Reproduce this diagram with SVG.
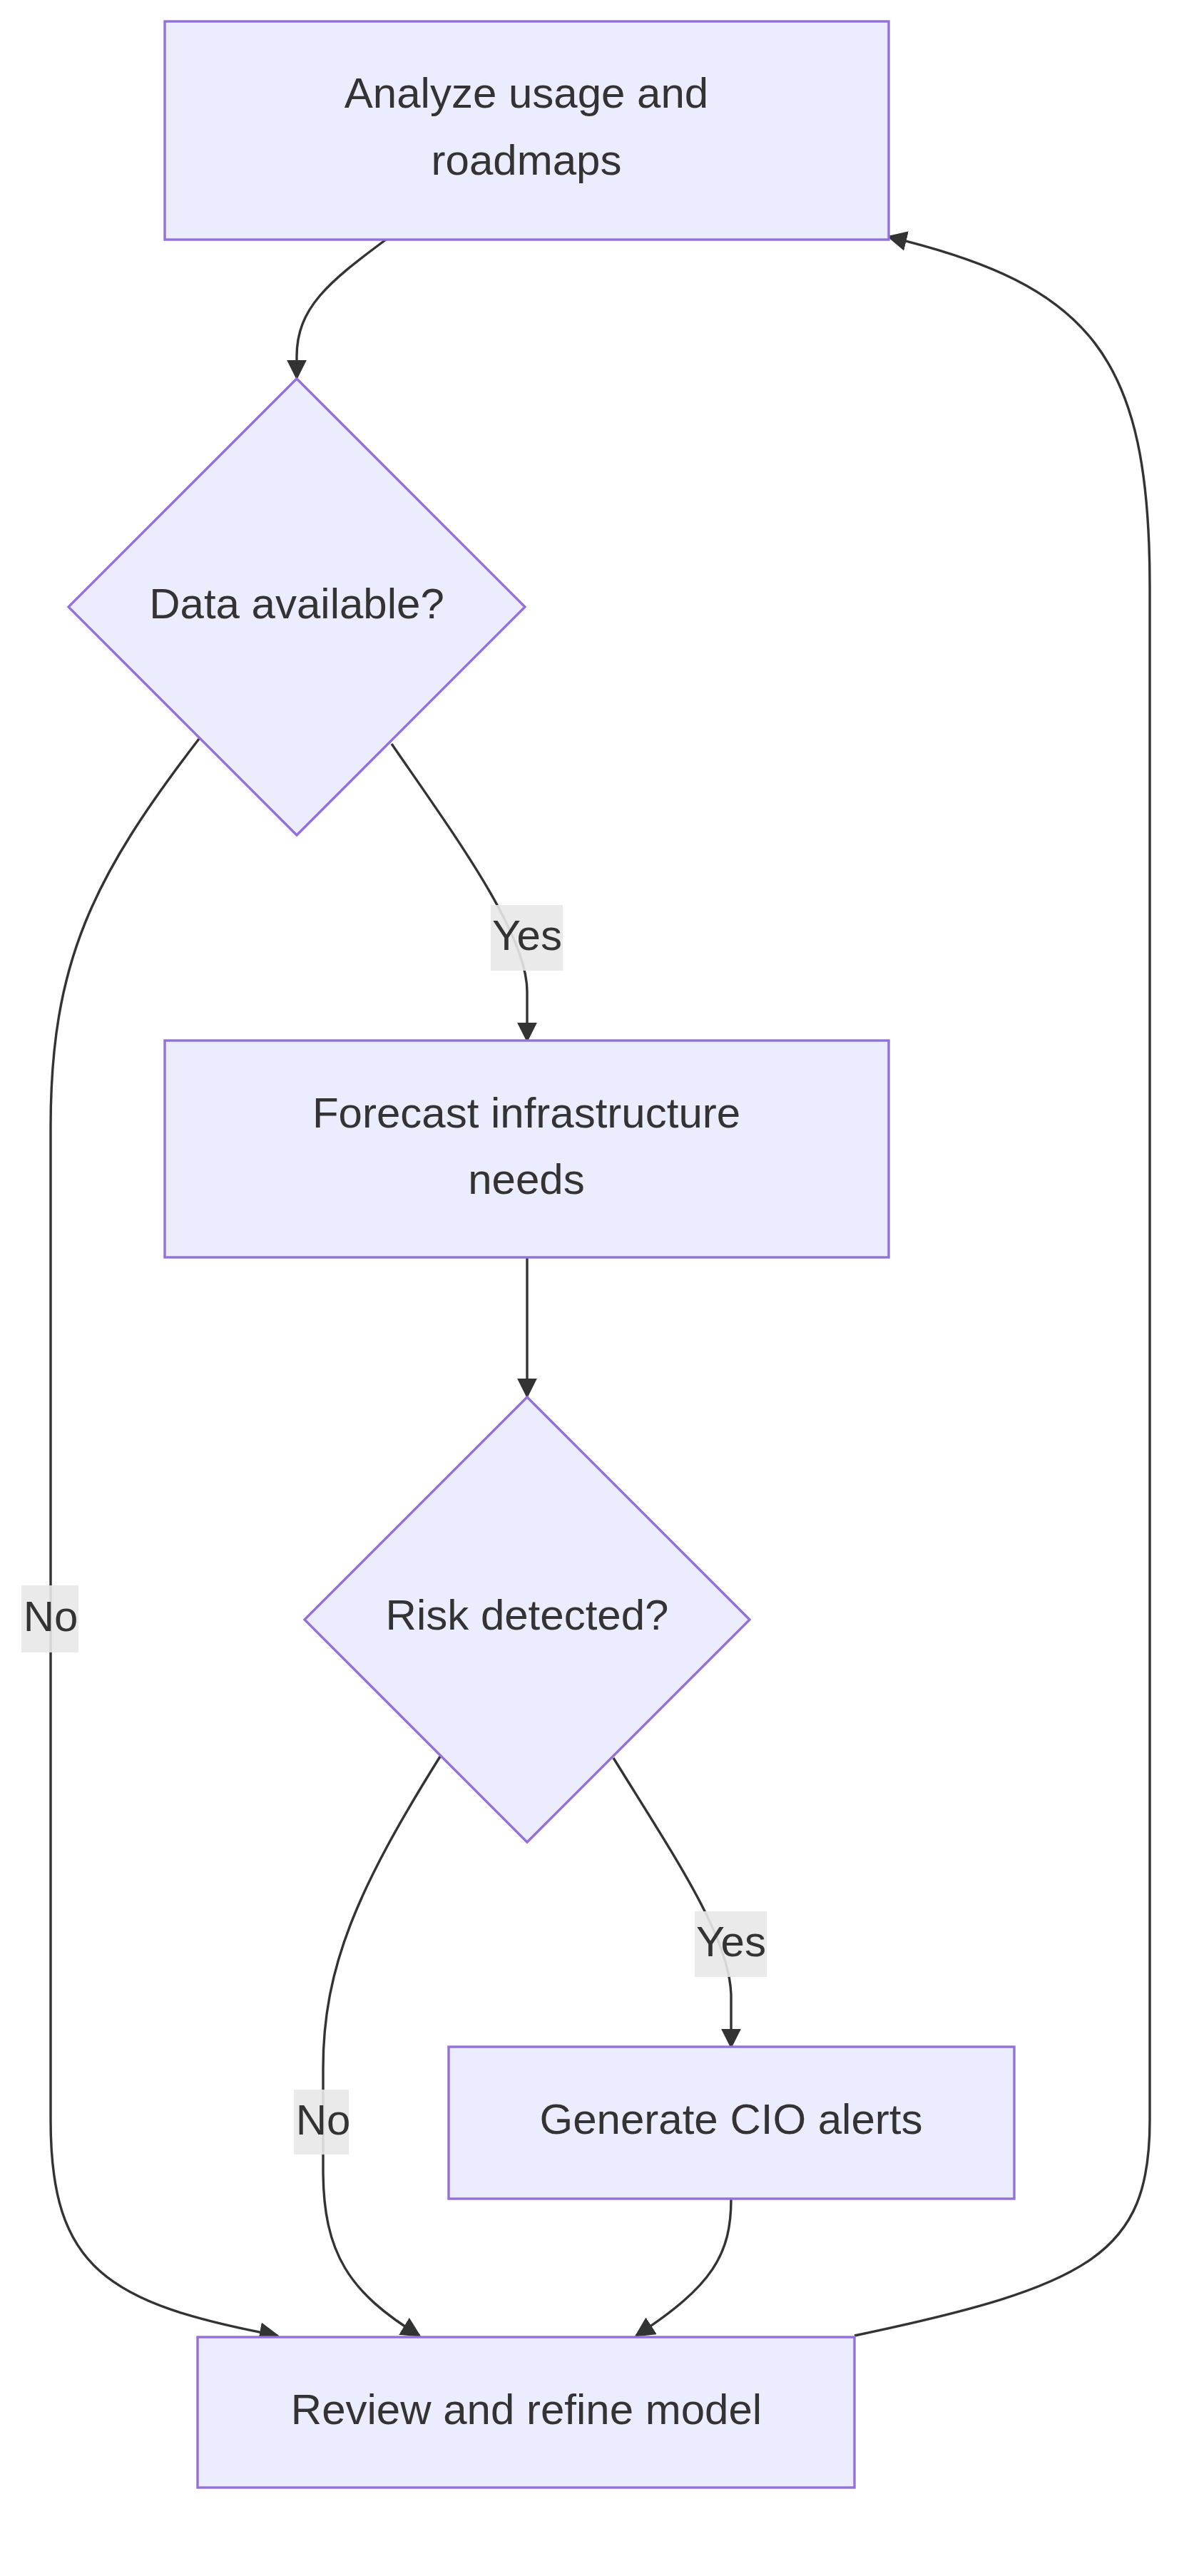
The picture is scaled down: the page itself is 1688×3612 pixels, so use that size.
<svg xmlns="http://www.w3.org/2000/svg" width="1688" height="3612" viewBox="0 0 1688 3612">
<style>
.n{fill:#ECECFF;stroke:#9370DB;stroke-width:3.4}
.t{font-family:"Liberation Sans",Arial,sans-serif;font-size:60px;fill:#333;text-anchor:middle;dominant-baseline:central}
.e{fill:none;stroke:#333;stroke-width:3.4;marker-end:url(#ah)}
.lb{fill:#E8E8E8;fill-opacity:0.9}
</style>
<defs>
<marker id="ah" viewBox="0 0 10 10" refX="9" refY="5" markerWidth="28" markerHeight="28" markerUnits="userSpaceOnUse" orient="auto">
<path d="M0,0 L10,5 L0,10 z" fill="#333"/>
</marker>
</defs>
<rect width="1688" height="3612" fill="#fff"/>
<g id="edges">
<path class="e" d="M541,336 C460,396 416,432 416,500 L416,530"/>
<path class="e" d="M549,1043 C640,1175 739,1310 739,1390 L739,1459"/>
<path class="e" d="M279,1036 C130,1230 71,1350 71,1580 L71,2973 C71,3180 150,3230 389,3275"/>
<path class="e" d="M739,1763 L739,1958"/>
<path class="e" d="M860,2465 C950,2610 1025,2721 1025,2800 L1025,2870"/>
<path class="e" d="M617,2463 C500,2650 453,2760 453,2900 L453,3042 C453,3160 490,3215 588,3275"/>
<path class="e" d="M1025,3083 C1025,3160 1000,3205 892,3275"/>
<path class="e" d="M1198,3275 C1530,3205 1612,3160 1612,2973 L1612,823 C1612,500 1530,400 1246,332"/>
</g>
<g id="labels">
<rect class="lb" x="688" y="1269" width="101" height="92"/><text class="t" x="739" y="1311">Yes</text>
<rect class="lb" x="30" y="2223" width="80" height="94"/><text class="t" x="71" y="2266">No</text>
<rect class="lb" x="974" y="2680" width="101" height="92"/><text class="t" x="1025" y="2722">Yes</text>
<rect class="lb" x="412" y="2930" width="77" height="91"/><text class="t" x="453" y="2972">No</text>
</g>
<g id="A"><rect class="n" x="231" y="30" width="1015" height="306"/><text class="t" x="738" y="130">Analyze usage and</text><text class="t" x="738" y="224">roadmaps</text></g>
<g id="D1"><polygon class="n" points="416,531 736,851 416,1171 96,851"/><text class="t" x="416" y="846">Data available?</text></g>
<g id="B"><rect class="n" x="231" y="1459" width="1015" height="304"/><text class="t" x="738" y="1560">Forecast infrastructure</text><text class="t" x="738" y="1653">needs</text></g>
<g id="D2"><polygon class="n" points="739,1959 1051,2271 739,2583 427,2271"/><text class="t" x="739" y="2264">Risk detected?</text></g>
<g id="C"><rect class="n" x="629" y="2870" width="793" height="213"/><text class="t" x="1025" y="2971">Generate CIO alerts</text></g>
<g id="E"><rect class="n" x="277" y="3277" width="921" height="211"/><text class="t" x="738" y="3378">Review and refine model</text></g>
</svg>
